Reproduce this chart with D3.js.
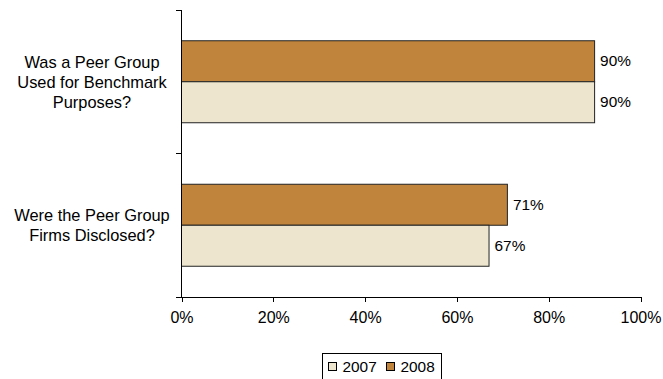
<!DOCTYPE html>
<html>
<head>
<meta charset="utf-8">
<script src="https://cdn.jsdelivr.net/npm/d3@7/dist/d3.min.js"></script>
<style>
  html, body { margin: 0; padding: 0; background: #fff; }
  svg { display: block; font-family: "Liberation Sans", Arial, sans-serif; }
</style>
</head>
<body>
<svg id="chart" width="663" height="379"></svg>
<script>
// Survey questions (top to bottom) and the share answering yes, per year
const categories = [
  ["Was a Peer Group", "Used for Benchmark", "Purposes?"],
  ["Were the Peer Group", "Firms Disclosed?"]
];
const categoryKeys = ["benchmark", "disclosed"];
const series = ["2008", "2007"];           // drawn top to bottom inside each group
const values2007 = [0.90, 0.67];
const values2008 = [0.90, 0.71];
const valueLabels2007 = ["90%", "67%"];
const valueLabels2008 = ["90%", "71%"];
const xTicks = [0, 0.2, 0.4, 0.6, 0.8, 1.0];
const legendItems = ["2007", "2008"];
const colors = { "2007": "#EDE5CE", "2008": "#C0843D" };

const svg = d3.select("#chart");

const x = d3.scaleLinear().domain([0, 1]).range([181.5, 640.5]);
const y = d3.scaleBand().domain(categoryKeys).range([10, 297])
  .paddingInner(0.4286).paddingOuter(0.2143);
const ySub = d3.scaleBand().domain(series).range([0, y.bandwidth()]);

const rows = categoryKeys.map((k, i) => ({
  key: k,
  lines: categories[i],
  bars: [
    { s: "2008", v: values2008[i], label: valueLabels2008[i] },
    { s: "2007", v: values2007[i], label: valueLabels2007[i] }
  ]
}));

// Bars
const groups = svg.selectAll("g.row").data(rows).join("g")
  .attr("class", "row")
  .attr("transform", d => `translate(0,${y(d.key)})`);

groups.selectAll("rect").data(d => d.bars).join("rect")
  .attr("x", x(0))
  .attr("y", b => ySub(b.s))
  .attr("width", b => x(b.v) - x(0))
  .attr("height", ySub.bandwidth())
  .attr("fill", b => colors[b.s])
  .attr("stroke", "#222")
  .attr("stroke-width", 1);

// Value labels
groups.selectAll("text.val").data(d => d.bars).join("text")
  .attr("class", "val")
  .attr("x", b => x(b.v) + 5.5)
  .attr("y", b => ySub(b.s) + ySub.bandwidth() / 2 + 5)
  .attr("font-size", 15.4)
  .attr("fill", "#000")
  .text(b => b.label);

// Y axis: line plus ticks at band boundaries
const yAxisG = svg.append("g").attr("shape-rendering", "crispEdges");
yAxisG.append("line")
  .attr("x1", 181.5).attr("x2", 181.5)
  .attr("y1", 10).attr("y2", 297)
  .attr("stroke", "#000");
const yBounds = [10, 10 + y.step(), 297];
yAxisG.selectAll("line.tick").data(yBounds).join("line")
  .attr("class", "tick")
  .attr("x1", 176).attr("x2", 181.5)
  .attr("y1", d => d).attr("y2", d => d)
  .attr("stroke", "#000");

// Category labels, centred multi-line blocks
const catText = svg.selectAll("text.cat").data(rows).join("text")
  .attr("class", "cat")
  .attr("text-anchor", "middle")
  .attr("font-size", 16.4)
  .attr("fill", "#000");
catText.each(function(d) {
  const n = d.lines.length;
  const cy = y(d.key) + y.bandwidth() / 2;
  const lh = 20.2;
  const first = cy - (n - 1) * lh / 2 + 6;
  d3.select(this).selectAll("tspan").data(d.lines).join("tspan")
    .attr("x", 92)
    .attr("y", (t, i) => first + i * lh)
    .text(t => t);
});

// X axis
const xAxis = d3.axisBottom(x)
  .tickValues(xTicks)
  .tickFormat(d3.format(".0%"))
  .tickSizeInner(5)
  .tickSizeOuter(0)
  .tickPadding(10);
const xg = svg.append("g")
  .attr("transform", "translate(0,297)")
  .call(xAxis);
xg.select(".domain").attr("stroke", "#000").attr("d", "M176,0.5H640.5");
xg.selectAll(".tick line").attr("stroke", "#000");
xg.selectAll(".tick text")
  .attr("font-family", "\"Liberation Sans\", Arial, sans-serif")
  .attr("font-size", 16)
  .attr("fill", "#000");
xg.attr("shape-rendering", "crispEdges");

// Legend
const legend = svg.append("g");
legend.append("rect")
  .attr("x", 322.5).attr("y", 353.5)
  .attr("width", 118.5).attr("height", 30)
  .attr("fill", "#fff").attr("stroke", "#000")
  .attr("shape-rendering", "crispEdges");
const legendX = d3.scalePoint().domain(legendItems).range([328, 386]);
const li = legend.selectAll("g.li").data(legendItems).join("g")
  .attr("class", "li")
  .attr("transform", d => `translate(${legendX(d)},0)`);
li.append("rect")
  .attr("x", 0.5).attr("y", 362.5)
  .attr("width", 7.5).attr("height", 8)
  .attr("fill", d => colors[d]).attr("stroke", "#000")
  .attr("shape-rendering", "crispEdges");
li.append("text")
  .attr("x", 14.5).attr("y", 371.5)
  .attr("font-size", 15.4)
  .attr("fill", "#000")
  .text(d => d);
</script>
</body>
</html>
